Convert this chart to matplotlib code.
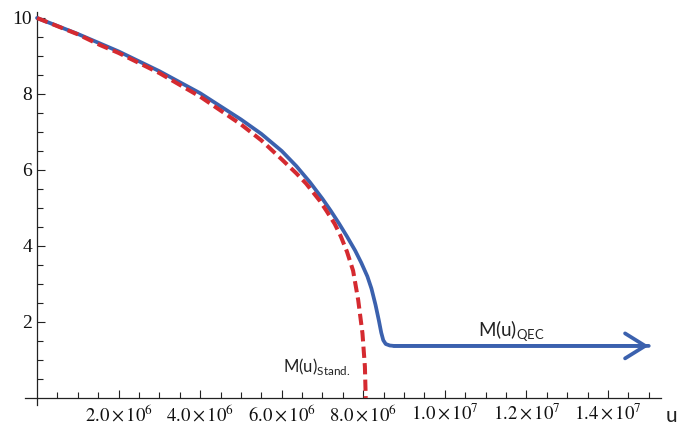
import matplotlib
matplotlib.use("Agg")
import matplotlib.pyplot as plt
import numpy as np

# M(u) for the standard case (red dashed), u in units of 1e6
u_stand = [0, 1.0, 1.54, 2.0, 3.0, 4.0, 5.0, 5.5, 6.0, 6.36, 6.6, 6.94, 7.1, 7.3, 7.45, 7.6, 7.75,
           7.875, 7.98, 8.04, 8.06]
m_stand = [10, 9.57, 9.29, 9.08, 8.55, 7.93, 7.2, 6.78, 6.28, 5.91, 5.64, 5.18, 4.92, 4.58, 4.25,
           3.85, 3.35, 2.58, 1.70, 0.82, 0.0]

# M(u) with QEC (blue solid)
u_qec = [0, 1.0, 2.0, 3.0, 4.0, 5.0, 5.5, 6.0, 6.36, 6.69, 7.0, 7.2, 7.4, 7.6, 7.8, 7.95, 8.1, 8.2,
         8.3, 8.38, 8.44, 8.49, 8.55, 8.65, 8.75, 15.0]
m_qec = [10, 9.58, 9.12, 8.6, 8.02, 7.33, 6.95, 6.5, 6.1, 5.68, 5.24, 4.93, 4.6, 4.25, 3.88, 3.56,
         3.2, 2.88, 2.45, 2.05, 1.72, 1.52, 1.42, 1.38, 1.37, 1.37]

x_major = [2, 4, 6, 8, 10, 12, 14]
x_labels = [r'$2.0\times10^{6}$', r'$4.0\times10^{6}$', r'$6.0\times10^{6}$', r'$8.0\times10^{6}$',
            r'$1.0\times10^{7}$', r'$1.2\times10^{7}$', r'$1.4\times10^{7}$']
y_major = [2, 4, 6, 8, 10]

blue = '#3b61ae'
red = '#d52a30'
axis_col = '#222222'

fig = plt.figure(figsize=(6.92, 4.26), dpi=100)
ax = fig.add_axes([0.0358, 0.0498, 0.9194, 0.9214])

u_s = np.array(u_stand) * 1e6
u_q = np.array(u_qec) * 1e6

ax.plot(u_q, m_qec, color=blue, lw=2.7, solid_capstyle='round', solid_joinstyle='round',
        clip_on=False, zorder=3)
ax.plot(u_s, m_stand, color=red, lw=2.9, linestyle=(0, (2.8, 1.3)), dash_capstyle='butt',
        clip_on=False, zorder=4)

# arrow head at the end of the QEC curve
ax.annotate('', xy=(u_q[-1], m_qec[-1]), xytext=(u_q[-2], m_qec[-2]),
            arrowprops=dict(arrowstyle='->,head_length=1.45,head_width=0.9', lw=2.7,
                            color=blue, shrinkA=0, shrinkB=0))

ax.set_xlim(-0.3e6, 15.3e6)
ax.set_ylim(-0.18, 10.15)

for s in ['top', 'right']:
    ax.spines[s].set_visible(False)
for s in ['left', 'bottom']:
    ax.spines[s].set_position(('data', 0))
    ax.spines[s].set_color(axis_col)
    ax.spines[s].set_linewidth(0.9)

ax.set_xticks(np.array(x_major) * 1e6)
ax.set_xticklabels(x_labels)
ax.set_xticks(np.arange(0.5, 15.01, 0.5) * 1e6, minor=True)
ax.set_yticks(y_major)
ax.set_yticklabels([str(v) for v in y_major])
ax.set_yticks(np.arange(0.5, 10.01, 0.5), minor=True)

ax.tick_params(which='major', direction='in', length=5.8, width=0.8, color=axis_col)
ax.tick_params(which='minor', direction='in', length=4.0, width=0.8, color=axis_col)
ax.tick_params(axis='x', which='major', pad=4, labelsize=13.5, labelcolor='#111111')
ax.tick_params(axis='y', which='major', pad=3.6, labelsize=14, labelcolor='#111111')

for lbl in ax.get_xticklabels():
    lbl.set_math_fontfamily('stix')
for lbl in ax.get_yticklabels():
    lbl.set_family('Liberation Serif')

# curve labels
ax.text(10.81e6, 1.61, r'M(u)$_{\mathregular{QEC}}$', family='Lato', fontsize=13.5,
        ha='left', va='baseline', color='#222222')
ax.text(6.03e6, 0.68, r'M(u)$_{\mathregular{Stand.}}$', family='Lato', fontsize=12,
        ha='left', va='baseline', color='#222222')

# axis label
fig.text(671 / 692, 1 - 416 / 426, 'u', family='Lato', fontsize=15, ha='center', va='center',
         color='#222222')

fig.savefig('out.png', dpi=100)
